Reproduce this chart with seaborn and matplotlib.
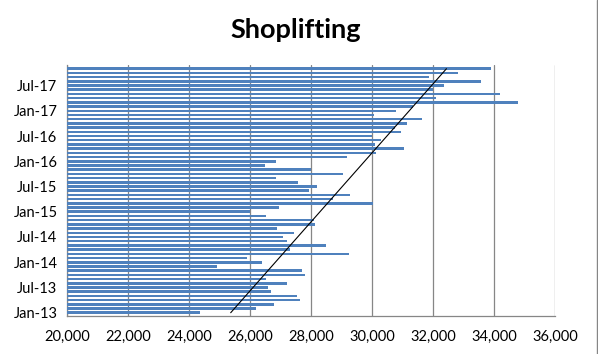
import numpy as np
import pandas as pd
import seaborn as sns
import matplotlib.pyplot as plt
from matplotlib.lines import Line2D

# monthly shoplifting offences, Jan-13 .. Nov-17
months = pd.date_range("2013-01-01", periods=59, freq="MS")
month_labels = [d.strftime("%b-%y") for d in months]
offences = [
    24350, 26190, 26770, 27620, 27520, 26670, 26580, 27190, 26500, 27780, 27680, 24900,
    26380, 25880, 29240, 27300, 28470, 27220, 27060, 27430, 26860, 28110, 28100, 26500,
    25990, 26930, 30030, 28720, 29270, 27920, 28180, 27550, 26830, 29030, 28000, 26470,
    26830, 29160, 30120, 31040, 30090, 30270, 30000, 30930, 30740, 31130, 31620, 30050,
    30770, 31340, 34770, 32080, 34180, 32000, 32350, 33560, 31850, 32800, 33880,
]
x_ticks = [20000, 22000, 24000, 26000, 28000, 30000, 32000, 34000, 36000]

sns.set_style("white")
plt.rcParams["font.family"] = ["Lato", "DejaVu Sans"]

fig = plt.figure(figsize=(5.98, 3.54), dpi=100)
ax = fig.add_axes([0.1125, 0.1073, 0.8161, 0.7091])

df = pd.DataFrame({"month": month_labels, "offences": offences})
order = month_labels[::-1]  # newest at the top
sns.barplot(data=df, x="offences", y="month", order=order, orient="h",
            color="#4F81BD", saturation=1, width=0.6, linewidth=0,
            edgecolor="none", ax=ax, zorder=3)

# linear trendline (Excel style)
n = len(offences)
idx = np.arange(n)
slope, icpt = np.polyfit(idx, offences, 1)
trend = slope * idx + icpt
ax.plot(trend, (n - 1) - idx, color="black", lw=0.8, zorder=4)

ax.set_xlim(20000, 36000)
ax.set_ylim(n - 1 + 0.78, -0.88)
ax.set_xticks(x_ticks, [f"{v:,}" for v in x_ticks])
tick_pos = [(n - 1) - i for i in range(0, n, 6)]
ax.set_yticks(tick_pos, [month_labels[i] for i in range(0, n, 6)])

ax.xaxis.grid(True, color="#868686", lw=0.9, zorder=0)
ax.yaxis.grid(False)
for s in ["top", "right"]:
    ax.spines[s].set_visible(False)
for s in ["left", "bottom"]:
    ax.spines[s].set_color("#868686")
    ax.spines[s].set_linewidth(0.9)
ax.tick_params(axis="both", which="major", direction="out", length=4,
               width=0.9, color="#868686", labelsize=10.5, labelcolor="black")
ax.tick_params(axis="x", pad=6)
ax.tick_params(axis="y", pad=3)

ax.set_xlabel("")
ax.set_ylabel("")
fig.text(0.495, 0.915, "Shoplifting", ha="center", va="center",
         fontsize=19.5, fontweight="bold", color="black")

fig.add_artist(Line2D([0.9975, 0.9975], [0, 1], transform=fig.transFigure,
                      color="#868686", lw=1))

fig.savefig("out.png", dpi=100)
